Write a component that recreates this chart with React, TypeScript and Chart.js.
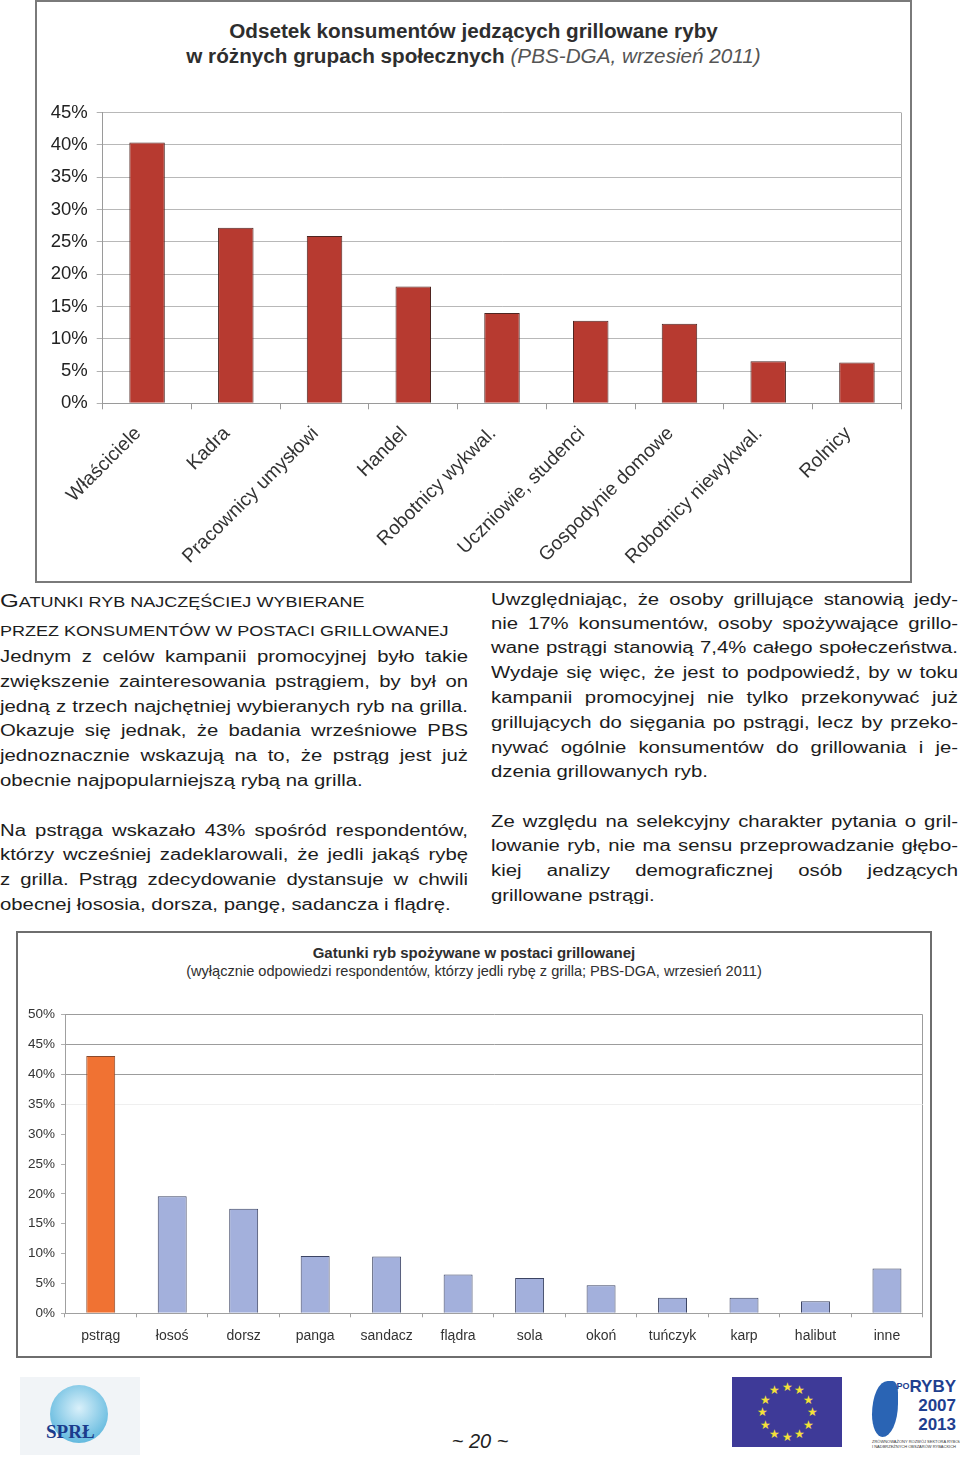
import React, { useEffect, useRef } from 'react';
import { Chart, registerables } from 'chart.js';

Chart.register(...registerables);

// ---------- Data ----------
const groupLabels = [
  'Właściciele',
  'Kadra',
  'Pracownicy umysłowi',
  'Handel',
  'Robotnicy wykwal.',
  'Uczniowie, studenci',
  'Gospodynie domowe',
  'Robotnicy niewykwal.',
  'Rolnicy',
];
const groupValues = [40.4, 27.2, 25.9, 18.1, 14.0, 12.8, 12.3, 6.5, 6.3];
const groupAxisMax = 45;
const groupAxisStep = 5;

const fishLabels = [
  'pstrąg',
  'łosoś',
  'dorsz',
  'panga',
  'sandacz',
  'flądra',
  'sola',
  'okoń',
  'tuńczyk',
  'karp',
  'halibut',
  'inne',
];
const fishValues = [43.1, 19.6, 17.5, 9.6, 9.5, 6.5, 5.9, 4.7, 2.6, 2.6, 2.0, 7.5];
const fishHighlight = 'pstrąg';
const fishAxisMax = 50;
const fishAxisStep = 5;

const chart1TitleLine1 = 'Odsetek konsumentów jedzących grillowane ryby';
const chart1TitleLine2Bold = 'w różnych grupach społecznych ';
const chart1TitleLine2Italic = '(PBS-DGA, wrzesień 2011)';
const chart2TitleLine1 = 'Gatunki ryb spożywane w postaci grillowanej';
const chart2TitleLine2 =
  '(wyłącznie odpowiedzi respondentów, którzy jedli rybę z grilla; PBS-DGA, wrzesień 2011)';

const headerLine1 = 'ATUNKI RYB NAJCZĘŚCIEJ WYBIERANE';
const headerLine2 = 'PRZEZ KONSUMENTÓW W POSTACI GRILLOWANEJ';
const leftPara1 = [
  'Jednym z celów kampanii promocyjnej było takie',
  'zwiększenie zainteresowania pstrągiem, by był on',
  'jedną z trzech najchętniej wybieranych ryb na grilla.',
  'Okazuje się jednak, że badania wrześniowe PBS',
  'jednoznacznie wskazują na to, że pstrąg jest już',
  'obecnie najpopularniejszą rybą na grilla.',
];
const leftPara2 = [
  'Na pstrąga wskazało 43% spośród respondentów,',
  'którzy wcześniej zadeklarowali, że jedli jakąś rybę',
  'z grilla. Pstrąg zdecydowanie dystansuje w chwili',
  'obecnej łososia, dorsza, pangę, sadancza i flądrę.',
];
const rightPara1 = [
  'Uwzględniając, że osoby grillujące stanowią jedy-',
  'nie 17% konsumentów, osoby spożywające grillo-',
  'wane pstrągi stanowią 7,4% całego społeczeństwa.',
  'Wydaje się więc, że jest to podpowiedź, by w toku',
  'kampanii promocyjnej nie tylko przekonywać już',
  'grillujących do sięgania po pstrągi, lecz by przeko-',
  'nywać ogólnie konsumentów do grillowania i je-',
  'dzenia grillowanych ryb.',
];
const rightPara2 = [
  'Ze względu na selekcyjny charakter pytania o gril-',
  'lowanie ryb, nie ma sensu przeprowadzanie głębo-',
  'kiej analizy demograficznej osób jedzących',
  'grillowane pstrągi.',
];
const pageNumber = '~ 20 ~';

const FONT = "'Liberation Sans', Arial, Helvetica, sans-serif";

// ---------- Charts ----------
function GroupsChart() {
  const ref = useRef<HTMLCanvasElement>(null);
  useEffect(() => {
    const chart = new Chart(ref.current as HTMLCanvasElement, {
      type: 'bar',
      data: {
        labels: groupLabels,
        datasets: [
          {
            data: groupValues,
            backgroundColor: '#b73a30',
            borderColor: '#4e2521',
            borderWidth: 1,
            categoryPercentage: 1,
            barPercentage: 0.4,
          },
        ],
      },
      options: {
        responsive: false,
        maintainAspectRatio: false,
        animation: false,
        layout: { padding: { top: 20.7, right: 7.7, left: 0, bottom: 0 } },
        plugins: { legend: { display: false }, tooltip: { enabled: false } },
        scales: {
          x: {
            grid: {
              offset: true,
              drawOnChartArea: true,
              color: (c: any) => (c.tick ? 'rgba(0,0,0,0)' : '#a8a8a8'),
              tickColor: '#9a9a9a',
              tickLength: 6,
            },
            border: { display: true, color: '#9a9a9a' },
            ticks: {
              font: { family: FONT, size: 19.3 },
              color: '#333',
              minRotation: 45,
              maxRotation: 45,
              autoSkip: false,
              padding: 13,
              labelOffset: -9,
            },
            afterFit: (s: any) => {
              s.height = 176.7;
            },
          },
          y: {
            min: 0,
            max: groupAxisMax,
            ticks: {
              stepSize: groupAxisStep,
              callback: (v: any) => v + '%',
              font: { family: FONT, size: 18.5 },
              color: '#222',
              padding: 9,
            },
            grid: { color: '#b8b8b8', tickColor: '#b0b0b0', tickLength: 6 },
            border: { color: '#9a9a9a' },
            afterFit: (s: any) => {
              s.width = 65.7;
            },
          },
        },
      },
    });
    return () => chart.destroy();
  }, []);
  return (
    <canvas
      ref={ref}
      width={872}
      height={488}
      style={{ position: 'absolute', left: 37, top: 92, width: 872, height: 488 }}
    />
  );
}

function FishChart() {
  const ref = useRef<HTMLCanvasElement>(null);
  useEffect(() => {
    const chart = new Chart(ref.current as HTMLCanvasElement, {
      type: 'bar',
      data: {
        labels: fishLabels,
        datasets: [
          {
            data: fishValues,
            backgroundColor: fishLabels.map((l) => (l === fishHighlight ? '#f07233' : '#a3b0dc')),
            borderColor: fishLabels.map((l) => (l === fishHighlight ? '#8a4a2c' : '#3c4463')),
            borderWidth: 1,
            categoryPercentage: 1,
            barPercentage: 0.405,
          },
        ],
      },
      options: {
        responsive: false,
        maintainAspectRatio: false,
        animation: false,
        layout: { padding: { top: 19.7, right: 6.3, left: 0, bottom: 0 } },
        plugins: { legend: { display: false }, tooltip: { enabled: false } },
        scales: {
          x: {
            grid: {
              offset: true,
              drawOnChartArea: true,
              color: (c: any) => (c.tick ? 'rgba(0,0,0,0)' : '#9c9c9c'),
              tickColor: '#a0a0a0',
              tickLength: 4,
            },
            border: { display: true, color: '#a0a0a0' },
            ticks: {
              font: { family: FONT, size: 14 },
              color: '#333',
              maxRotation: 0,
              autoSkip: false,
              padding: 10,
            },
            afterFit: (s: any) => {
              s.height = 41.7;
            },
          },
          y: {
            min: 0,
            max: fishAxisMax,
            ticks: {
              stepSize: fishAxisStep,
              callback: (v: any) => v + '%',
              font: { family: FONT, size: 13.5 },
              color: '#333',
              padding: 6,
            },
            grid: {
              color: (c: any) => {
                const v = c.tick ? c.tick.value : 0;
                if (v >= 40) return '#9c9c9c';
                if (v === 35) return '#efefef';
                return 'rgba(0,0,0,0)';
              },
              tickColor: '#b0b0b0',
              tickLength: 4,
            },
            border: { color: '#a0a0a0' },
            afterFit: (s: any) => {
              s.width = 47;
            },
          },
        },
      },
    });
    return () => chart.destroy();
  }, []);
  return (
    <canvas
      ref={ref}
      width={911}
      height={360}
      style={{ position: 'absolute', left: 18, top: 995, width: 911, height: 360 }}
    />
  );
}

// ---------- Text helpers ----------
const SX = 1.27;
const LH = 24.8;

function TextLine({ x, y, w, text, last }: { x: number; y: number; w: number; text: string; last?: boolean }) {
  return (
    <div
      style={{
        position: 'absolute',
        left: x,
        top: y - LH / 2,
        width: w / SX,
        height: LH,
        lineHeight: LH + 'px',
        fontSize: 16,
        color: '#1c1c1c',
        transform: `scaleX(${SX})`,
        transformOrigin: '0 0',
        textAlign: 'justify',
        textAlignLast: last ? 'left' : 'justify',
        whiteSpace: 'nowrap',
      } as React.CSSProperties}
    >
      {text}
    </div>
  );
}

function Paragraph({ x, ys, w, lines }: { x: number; ys: number[]; w: number; lines: string[] }) {
  return (
    <>
      {lines.map((t, i) => (
        <TextLine key={i} x={x} y={ys[i]} w={w} text={t} last={i === lines.length - 1} />
      ))}
    </>
  );
}

function EuFlag() {
  const stars = [];
  for (let i = 0; i < 12; i++) {
    const a = (i * Math.PI) / 6;
    stars.push(
      <span
        key={i}
        style={{
          position: 'absolute',
          left: 55 + 25 * Math.sin(a) - 6,
          top: 35 - 25 * Math.cos(a) - 7,
          width: 12,
          height: 14,
          lineHeight: '14px',
          fontSize: 12,
          color: '#f4e03a',
          textAlign: 'center',
        }}
      >
        ★
      </span>
    );
  }
  return (
    <div style={{ position: 'absolute', left: 732, top: 1377, width: 110, height: 70, background: '#3e3a98' }}>
      {stars}
    </div>
  );
}

export default function App() {
  return (
    <div
      style={{
        position: 'absolute',
        left: 0,
        top: 0,
        width: 960,
        height: 1457,
        overflow: 'hidden',
        background: '#fff',
        fontFamily: FONT,
      }}
    >
      {/* Chart 1 frame */}
      <div
        style={{
          position: 'absolute',
          left: 35,
          top: 0,
          width: 877,
          height: 583,
          boxSizing: 'border-box',
          border: '2px solid #7a7a7a',
        }}
      />
      <div
        style={{
          position: 'absolute',
          left: 35,
          top: 18,
          width: 877,
          textAlign: 'center',
          fontSize: 20.7,
          lineHeight: '25px',
          color: '#2e2e2e',
        }}
      >
        <div style={{ fontWeight: 'bold' }}>{chart1TitleLine1}</div>
        <div>
          <span style={{ fontWeight: 'bold' }}>{chart1TitleLine2Bold}</span>
          <span style={{ fontStyle: 'italic', color: '#555' }}>{chart1TitleLine2Italic}</span>
        </div>
      </div>
      <GroupsChart />

      {/* Text columns */}
      <div
        style={{
          position: 'absolute',
          left: 0,
          top: 589,
          height: 24,
          lineHeight: '24px',
          fontSize: 14.2,
          color: '#1c1c1c',
          transform: `scaleX(${SX})`,
          transformOrigin: '0 0',
          whiteSpace: 'nowrap',
        }}
      >
        <span style={{ fontSize: 19 }}>G</span>
        {headerLine1}
      </div>
      <div
        style={{
          position: 'absolute',
          left: 0,
          top: 619,
          height: 24,
          lineHeight: '24px',
          fontSize: 14.2,
          color: '#1c1c1c',
          transform: `scaleX(${SX})`,
          transformOrigin: '0 0',
          whiteSpace: 'nowrap',
        }}
      >
        {headerLine2}
      </div>
      <Paragraph x={0} w={468} ys={[657, 682, 707, 731.5, 756.5, 781.5]} lines={leftPara1} />
      <Paragraph x={0} w={468} ys={[831, 855.5, 880, 905]} lines={leftPara2} />
      <Paragraph x={491} w={467} ys={[600, 624, 648.5, 673.5, 698.5, 723.5, 748, 772.5]} lines={rightPara1} />
      <Paragraph x={491} w={467} ys={[822, 846.5, 871.5, 896.5]} lines={rightPara2} />

      {/* Chart 2 frame */}
      <div
        style={{
          position: 'absolute',
          left: 16,
          top: 931,
          width: 916,
          height: 427,
          boxSizing: 'border-box',
          border: '2px solid #6e6e6e',
        }}
      />
      <div
        style={{
          position: 'absolute',
          left: 16,
          top: 943,
          width: 916,
          textAlign: 'center',
          color: '#2e2e2e',
        }}
      >
        <div style={{ fontWeight: 'bold', fontSize: 15, lineHeight: '19px' }}>{chart2TitleLine1}</div>
        <div style={{ fontSize: 14.6, lineHeight: '18px' }}>{chart2TitleLine2}</div>
      </div>
      <FishChart />

      {/* Footer */}
      <div
        style={{
          position: 'absolute',
          left: 20,
          top: 1377,
          width: 120,
          height: 78,
          background: '#f1f4f7',
        }}
      >
        <div
          style={{
            position: 'absolute',
            left: 30,
            top: 8,
            width: 58,
            height: 58,
            borderRadius: '50%',
            background: 'radial-gradient(circle at 50% 40%, #d9f0fa, #3fa9d6)',
          }}
        />
        <div
          style={{
            position: 'absolute',
            left: 26,
            top: 44,
            fontFamily: "'Liberation Serif', 'DejaVu Serif', serif",
            fontWeight: 'bold',
            fontSize: 19,
            color: '#1b3c8c',
          }}
        >
          SPRŁ
        </div>
      </div>
      <div
        style={{
          position: 'absolute',
          left: 420,
          top: 1428,
          width: 120,
          textAlign: 'center',
          fontSize: 20,
          lineHeight: '26px',
          fontStyle: 'italic',
          color: '#222',
        }}
      >
        {pageNumber}
      </div>
      <EuFlag />
      <div style={{ position: 'absolute', left: 870, top: 1377, width: 88, height: 72 }}>
        <div
          style={{
            position: 'absolute',
            left: 2,
            top: 4,
            width: 26,
            height: 56,
            borderRadius: '60% 20% 60% 40%',
            background: '#2a64b4',
          }}
        />
        <div
          style={{
            position: 'absolute',
            right: 2,
            top: 0,
            textAlign: 'right',
            fontWeight: 'bold',
            color: '#1f3f8f',
            fontSize: 17,
            lineHeight: '19px',
            fontFamily: "'Liberation Sans Narrow', 'Liberation Sans', sans-serif",
          }}
        >
          <div>
            <span style={{ fontSize: 9, verticalAlign: 'top' }}>PO</span>RYBY
          </div>
          <div>2007</div>
          <div>2013</div>
        </div>
        <div
          style={{
            position: 'absolute',
            left: 2,
            top: 62,
            width: 86,
            fontSize: 4,
            lineHeight: '5px',
            color: '#333',
            whiteSpace: 'nowrap',
          }}
        >
          ZRÓWNOWAŻONY ROZWÓJ SEKTORA RYBOŁÓWSTWA
          <br />I NADBRZEŻNYCH OBSZARÓW RYBACKICH
        </div>
      </div>
    </div>
  );
}
